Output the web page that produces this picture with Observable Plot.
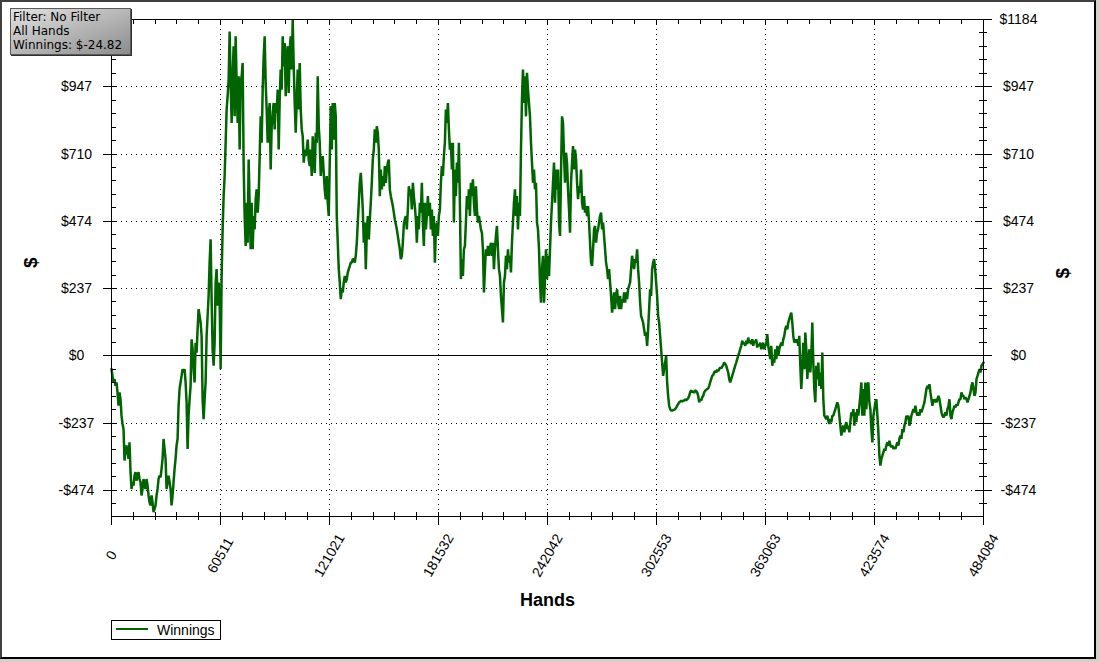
<!DOCTYPE html>
<html><head><meta charset="utf-8">
<script src="https://cdn.jsdelivr.net/npm/d3@7"></script>
<script src="https://cdn.jsdelivr.net/npm/@observablehq/plot@0.6"></script>
<style>
html,body{margin:0;padding:0;background:#d4d0c8;}
#wrap{position:relative;width:1099px;height:662px;overflow:hidden;background:#d4d0c8;}
#inner{position:absolute;left:0;top:0;width:1092px;height:655px;background:#fff;
  border-top:2px solid #404040;border-left:2px solid #404040;border-right:2px solid #000;border-bottom:2px solid #000;}
#chart{position:absolute;left:0;top:0;}
#filter{position:absolute;left:10px;top:8px;width:117px;height:44px;padding:1px 0 0 2px;
  background:linear-gradient(to bottom right,#e2e2e2,#8c8c8c);border:1px solid #5a5a5a;
  box-shadow:1px 1px 0 #303030;font:12px/14px "DejaVu Sans",Verdana,sans-serif;color:#000;white-space:nowrap;}
#legend{position:absolute;left:111px;top:620px;width:108px;height:18px;border:1px solid #000;background:#fff;
  font:14px "Liberation Sans",Arial,sans-serif;color:#000;}
#legend .sw{position:absolute;left:4px;top:7px;width:32px;height:2px;background:#006400;}
#legend .lb{position:absolute;left:45px;top:1px;line-height:16px;}
</style></head><body>
<div id="wrap">
  <div id="inner"></div>
  <div id="chart"></div>
  <div id="filter">Filter: No Filter<br>All Hands<br>Winnings: $-24.82</div>
  <div id="legend"><span class="sw"></span><span class="lb">Winnings</span></div>
</div>
<script>
// Cumulative winnings ($), one reading per equal step of hands
const winnings = [
-47,-71,-94,-82,-106,-94,-129,-176,-129,-153,
-211,-240,-258,-369,-328,-316,-340,-363,-305,-410,
-469,-445,-457,-422,-410,-440,-422,-410,-434,-445,
-492,-469,-434,-457,-469,-434,-457,-492,-516,-527,
-492,-516,-551,-539,-527,-492,-469,-434,-422,-428,
-398,-363,-293,-328,-363,-469,-445,-422,-445,-469,
-527,-492,-445,-398,-363,-316,-293,-176,-117,-94,
-71,-47,-59,-47,-94,-164,-328,-211,-153,-106,
58,23,-47,-94,46,11,93,164,140,117,
70,-153,-223,-153,-94,70,140,211,328,410,
199,23,-35,46,258,305,176,258,199,-47,
281,445,562,633,750,867,914,972,1142,961,
820,984,1090,843,1125,961,820,984,726,961,
984,1031,668,492,387,539,398,691,527,375,
539,375,492,445,551,586,504,562,703,843,
750,937,1054,1125,961,867,750,843,890,656,
808,855,890,797,890,855,937,726,902,1008,
937,1125,1019,1101,914,1054,1090,925,1078,1125,
1008,1183,1019,890,785,902,1008,867,1031,867,
797,773,680,726,703,726,761,691,668,726,
633,773,703,644,785,750,984,808,750,633,
680,703,644,586,551,633,539,492,680,
879,726,890,761,890,843,492,398,305,258,
199,234,223,258,281,258,270,293,305,316,
328,328,340,340,328,352,398,469,539,609,
644,586,515,398,469,305,433,492,410,480,
539,609,691,726,797,750,808,785,726,562,
656,586,633,597,668,609,656,680,691,586,
562,545,527,504,480,463,445,422,398,375,
340,352,398,463,480,492,445,515,597,562,
586,515,609,562,527,480,398,492,445,539,
504,609,469,387,539,445,492,562,492,539,
445,515,422,492,328,445,469,422,492,515,
609,668,633,703,750,867,820,890,797,726,
750,656,750,469,656,562,680,609,750,539,
270,340,281,375,387,469,562,515,586,492,
609,562,621,539,492,597,515,469,492,469,
445,433,375,223,305,375,352,387,352,375,
398,352,398,305,375,422,457,375,305,281,
211,164,117,258,281,352,305,375,328,352,
293,398,469,539,586,492,562,445,539,492,
726,902,1008,890,984,843,996,937,890,843,
750,680,609,656,586,609,469,445,375,258,
187,305,352,187,270,375,270,352,281,375,
469,539,609,680,539,656,586,656,469,422,
644,843,820,703,609,715,680,586,515,433,
609,680,738,656,726,691,609,551,597,574,
656,539,515,562,504,527,492,527,469,398,
328,316,375,445,457,398,433,445,469,492,
504,445,469,422,375,328,305,270,305,258,
211,152,187,223,164,211,234,187,164,211,
164,199,187,223,187,223,199,234,246,258,
305,352,328,305,340,328,375,305,258,187,
140,129,117,93,70,82,35,93,164,234,
211,305,328,340,305,258,211,140,117,70,
23,-24,-71,-47,-24,0,-94,-141,-176,-188,
-193,-193,-192,-190,-188,-183,-176,-170,-164,-162,
-158,-162,-158,-158,-153,-158,-153,-150,-141,-129,
-122,-129,-124,-131,-122,-124,-129,-141,-164,-153,
-158,-147,-141,-129,-123,-120,-117,-115,-106,-94,
-82,-71,-68,-59,-54,-59,-49,-54,-47,-41,
-45,-38,-33,-24,-28,-35,-47,-59,-82,-94,
-82,-71,-59,-47,-35,-24,-12,0,11,23,
35,53,41,46,35,53,41,64,46,53,
41,58,35,53,46,58,29,41,35,46,
23,35,46,23,35,41,76,35,11,-12,
35,-35,-12,-24,23,-12,35,0,23,35,
46,35,58,70,93,105,93,117,129,140,
152,117,70,46,58,46,58,35,70,-35,
-117,-47,46,-47,82,23,-82,-24,23,-59,
0,117,-24,-117,-164,-35,-82,-24,-106,-59,
-117,11,-153,-211,-217,-223,-211,-229,-240,-223,
-234,-211,-211,-199,-188,-176,-164,-176,-211,-246,
-281,-258,-246,-270,-246,-234,-258,-246,-270,-234,
-199,-211,-188,-246,-199,-234,-188,-211,-176,-141,
-94,-211,-117,-211,-94,-188,-106,-94,-164,-188,
-258,-305,-211,-188,-164,-153,-211,-270,-352,-387,
-363,-352,-340,-328,-334,-316,-305,-316,-299,-316,
-322,-316,-328,-322,-328,-316,-305,-316,-293,-281,
-293,-258,-270,-246,-234,-211,-223,-211,-246,-234,
-211,-199,-188,-199,-176,-199,-211,-199,-211,-188,
-199,-188,-176,-164,-141,-117,-106,-117,-100,-129,
-153,-176,-153,-164,-153,-164,-153,-141,-153,-176,
-199,-211,-217,-211,-199,-211,-188,-176,-153,-211,
-223,-199,-188,-176,-182,-170,-176,-164,-153,-153,
-129,-141,-141,-153,-147,-153,-164,-153,-141,-129,
-106,-94,-117,-141,-129,-82,-71,-59,-47,-59,
-35,-30,-24
];
const totalHands = 484084;
const xTickValues = [0, 60511, 121021, 181532, 242042, 302553, 363063, 423574, 484084];
const yTickValues = [-474, -237, 0, 237, 474, 710, 947, 1184];
const yBottom = -566;
const seriesName = "Winnings";
const xTitle = "Hands";
const yTitle = "$";

const n = winnings.length;
const data = winnings.map((v, i) => ({hands: i * totalHands / (n - 1), win: v}));
const xMinor = d3.range(0, 41).map(i => i * totalHands / 40);
const yStep = 1184 / 25;
const yMinor = d3.range(-11, 26).map(k => k * yStep).filter(v => v >= yBottom);
const fmtY = v => (v < 0 ? "-$" + (-v) : "$" + v);
const font = "'Liberation Sans', Arial, sans-serif";
const green = "#006400";
// the top-left label is hidden under the filter box in the reference
const leftLabels = yTickValues.filter(v => v !== 1184);

const chart = Plot.plot({
  width: 1099, height: 662,
  marginLeft: 111, marginRight: 116, marginTop: 19, marginBottom: 146,
  x: {domain: [0, totalHands], axis: null},
  y: {domain: [yBottom, 1184], axis: null},
  style: {background: "transparent", fontFamily: font, color: "#000", overflow: "visible"},
  marks: [
    Plot.ruleX(xTickValues.slice(1, -1), {stroke: "#000", strokeDasharray: "1,4", shapeRendering: "crispEdges"}),
    Plot.ruleY(yTickValues.filter(v => v !== 0 && v !== 1184), {stroke: "#000", strokeDasharray: "1,4", shapeRendering: "crispEdges"}),
    Plot.ruleY([0], {stroke: "#000", shapeRendering: "crispEdges"}),
    Plot.line(data, {x: "hands", y: "win", stroke: green, strokeWidth: 2.5, strokeLinejoin: "miter"}),
    Plot.frame({stroke: "#000", shapeRendering: "crispEdges"}),
    // bottom ticks
    Plot.ruleX(xMinor, {x: d => d, y1: yBottom, y2: yBottom, insetTop: -4, insetBottom: -4, stroke: "#000", shapeRendering: "crispEdges"}),
    Plot.ruleX(xTickValues, {x: d => d, y1: yBottom, y2: yBottom, insetTop: 0, insetBottom: -9, stroke: "#000", shapeRendering: "crispEdges"}),
    // top ticks
    Plot.ruleX(xMinor, {x: d => d, y1: 1184, y2: 1184, insetTop: 0, insetBottom: -5, stroke: "#000", shapeRendering: "crispEdges"}),
    // left ticks
    Plot.ruleY(yMinor, {y: d => d, x1: 0, x2: 0, insetLeft: 0, insetRight: -5, stroke: "#000", shapeRendering: "crispEdges"}),
    Plot.ruleY(yTickValues, {y: d => d, x1: 0, x2: 0, insetLeft: -8, insetRight: -4, stroke: "#000", shapeRendering: "crispEdges"}),
    // right ticks
    Plot.ruleY(yMinor, {y: d => d, x1: totalHands, x2: totalHands, insetLeft: -4, insetRight: -4, stroke: "#000", shapeRendering: "crispEdges"}),
    Plot.ruleY(yTickValues, {y: d => d, x1: totalHands, x2: totalHands, insetLeft: -8, insetRight: -9, stroke: "#000", shapeRendering: "crispEdges"}),
    // tick labels
    Plot.text(leftLabels, {x: 0, y: d => d, dx: -35, text: fmtY, textAnchor: "middle", lineAnchor: "middle", fontSize: 14, fill: "#000"}),
    Plot.text(yTickValues, {x: totalHands, y: d => d, dx: 35, text: fmtY, textAnchor: "middle", lineAnchor: "middle", fontSize: 14, fill: "#000"}),
    Plot.text(xTickValues, {x: d => d, y: yBottom, dy: 39, text: d => String(d), rotate: -60, textAnchor: "middle", lineAnchor: "middle", fontSize: 14, fill: "#000"}),
    // titles
    Plot.text([xTitle], {frameAnchor: "bottom", dy: 84, text: d => d, fontSize: 18, fontWeight: "bold", lineAnchor: "middle", fill: "#000"}),
    Plot.text([yTitle], {frameAnchor: "left", dx: -81, text: d => d, rotate: -90, fontSize: 19, fontWeight: "bold", lineAnchor: "middle", fill: "#000"}),
    Plot.text([yTitle], {frameAnchor: "right", dx: 79, text: d => d, rotate: -90, fontSize: 19, fontWeight: "bold", lineAnchor: "middle", fill: "#000"})
  ]
});
document.getElementById("chart").appendChild(chart);
</script>
</body></html>
